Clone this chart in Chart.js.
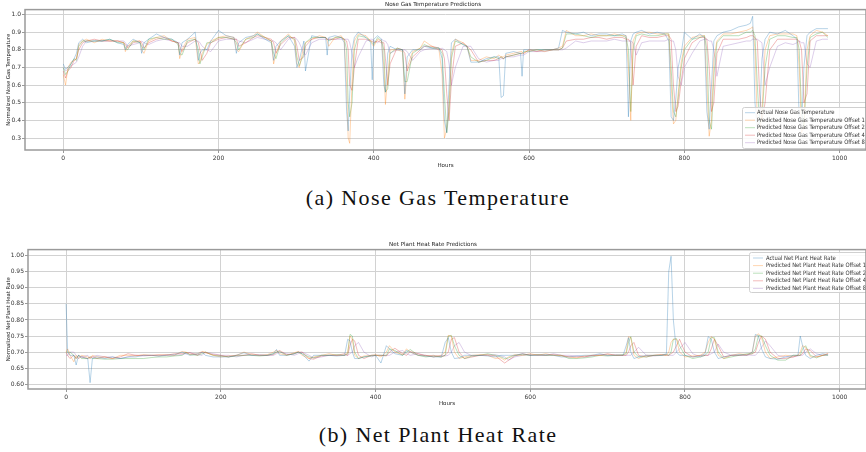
<!DOCTYPE html>
<html>
<head>
<meta charset="utf-8">
<script src="https://cdn.jsdelivr.net/npm/chart.js@4.4.0/dist/chart.umd.min.js"></script>
<style>
body{margin:0;background:#fff;width:866px;height:452px;overflow:hidden;position:relative;}
canvas{position:absolute;left:0;}
#c1{top:0}
#c2{top:238px}
.cap{position:absolute;left:0;width:876px;text-align:center;font-family:"Liberation Serif",serif;font-size:22px;letter-spacing:1.4px;color:#111;line-height:24px;}
</style>
</head>
<body>
<canvas id="c1" width="866" height="172"></canvas>
<div class="cap" style="top:186px">(a) Nose Gas Temperature</div>
<canvas id="c2" width="866" height="172"></canvas>
<div class="cap" style="top:423px">(b) Net Plant Heat Rate</div>
<script>
// EIXOS
const hourTicks = [0, 200, 400, 600, 800, 1000];
const noseTicksY = [0.3, 0.4, 0.5, 0.6, 0.7, 0.8, 0.9, 1.0];
const heatTicksY = [0.60, 0.65, 0.70, 0.75, 0.80, 0.85, 0.90, 0.95, 1.00];

// NOSE GAS TEMPERATURE
const noseLabels = ["Actual Nose Gas Temperature", "Predicted Nose Gas Temperature Offset 1", "Predicted Nose Gas Temperature Offset 2", "Predicted Nose Gas Temperature Offset 4", "Predicted Nose Gas Temperature Offset 8"];
const noseHours = [
  0,3,6,10,14,17,20,25,30,40,
  50,60,70,78,80,83,90,99,101,104,
  110,120,130,140,148,150,153,160,170,174,
  176,179,185,190,200,210,220,223,226,235,
  245,250,260,268,271,274,280,290,298,301,
  304,310,312,320,330,338,340,342,350,358,
  362,365,367,369,372,375,380,390,396,398,
  400,405,410,413,415,418,421,430,437,440,
  443,450,460,465,475,484,488,491,494,497,
  500,505,515,520,525,535,545,555,561,564,
  567,570,580,589,591,593,600,610,620,630,
  638,643,648,660,670,680,690,700,710,720,
  725,728,731,734,738,745,755,765,775,780,
  783,786,789,792,796,800,810,820,826,829,
  832,835,838,842,850,860,870,880,885,888,
  891,894,897,900,904,910,920,930,940,945,
  948,951,954,958,962,970,978,985
];
const noseActual = [
  .72,.69,.70,.72,.75,.78,.84,.86,.84,.85,
  .85,.86,.84,.83,.80,.83,.86,.84,.78,.84,
  .86,.89,.87,.86,.84,.77,.84,.86,.90,.74,
  .78,.80,.80,.85,.91,.88,.87,.78,.84,.87,
  .88,.89,.86,.84,.74,.82,.85,.88,.82,.70,
  .74,.85,.68,.88,.87,.87,.77,.87,.88,.87,
  .84,.45,.34,.55,.80,.87,.90,.87,.84,.63,
  .86,.88,.86,.60,.56,.78,.82,.80,.80,.55,
  .76,.80,.80,.82,.81,.81,.75,.40,.33,.60,
  .84,.86,.83,.82,.73,.73,.75,.76,.76,.53,
  .54,.78,.79,.78,.65,.80,.80,.80,.80,.80,
  .81,.91,.90,.89,.90,.88,.89,.89,.88,.89,
  .88,.42,.85,.89,.90,.91,.89,.90,.89,.85,
  .42,.40,.52,.70,.78,.90,.86,.89,.87,.45,
  .35,.60,.85,.88,.90,.91,.93,.94,.95,.99,
  .50,.35,.40,.75,.86,.90,.89,.91,.88,.86,
  .40,.35,.70,.88,.90,.92,.92,.92
];
const noseOffset1 = [
  .66,.60,.70,.73,.74,.75,.83,.85,.86,.84,
  .86,.85,.85,.84,.79,.82,.85,.85,.80,.78,
  .85,.87,.88,.85,.84,.75,.80,.86,.87,.72,
  .73,.78,.83,.85,.87,.88,.87,.80,.79,.86,
  .88,.90,.87,.85,.72,.78,.85,.89,.85,.72,
  .70,.82,.84,.86,.88,.87,.85,.82,.87,.88,
  .85,.60,.30,.27,.62,.85,.89,.88,.85,.83,
  .82,.86,.85,.70,.49,.65,.80,.80,.79,.52,
  .70,.79,.81,.85,.82,.80,.66,.30,.35,.50,
  .78,.86,.84,.82,.74,.74,.76,.75,.77,.76,
  .76,.77,.78,.79,.79,.78,.80,.80,.79,.80,
  .81,.82,.91,.88,.88,.89,.88,.88,.89,.88,
  .88,.70,.40,.85,.89,.90,.90,.89,.89,.89,
  .60,.38,.40,.55,.73,.82,.87,.88,.88,.60,
  .31,.40,.75,.85,.89,.89,.90,.91,.92,.93,
  .80,.40,.32,.45,.80,.88,.89,.89,.89,.88,
  .70,.33,.36,.80,.88,.91,.90,.88
];
const noseOffset2 = [
  .70,.66,.68,.72,.75,.74,.82,.85,.85,.85,
  .85,.86,.84,.84,.81,.80,.85,.84,.82,.80,
  .86,.87,.86,.86,.83,.78,.77,.85,.86,.80,
  .72,.76,.84,.84,.87,.87,.86,.84,.80,.86,
  .87,.89,.87,.85,.78,.75,.84,.88,.86,.76,
  .71,.78,.84,.87,.87,.87,.86,.85,.87,.87,
  .86,.80,.50,.42,.50,.80,.88,.87,.85,.84,
  .83,.87,.85,.80,.56,.58,.78,.81,.80,.62,
  .62,.78,.81,.83,.81,.81,.78,.55,.33,.45,
  .75,.85,.83,.82,.76,.73,.74,.76,.75,.76,
  .75,.76,.77,.78,.78,.79,.79,.80,.80,.80,
  .80,.81,.89,.89,.88,.87,.88,.88,.88,.88,
  .87,.80,.45,.80,.88,.89,.88,.88,.89,.89,
  .70,.45,.42,.52,.70,.80,.86,.87,.88,.80,
  .40,.35,.65,.84,.88,.88,.88,.90,.90,.91,
  .88,.60,.38,.40,.70,.86,.88,.88,.87,.87,
  .80,.45,.36,.70,.87,.89,.90,.87
];
const noseOffset4 = [
  .68,.64,.68,.70,.74,.75,.80,.84,.85,.86,
  .85,.85,.85,.84,.83,.81,.84,.85,.84,.81,
  .84,.86,.87,.85,.84,.82,.79,.84,.86,.84,
  .80,.74,.78,.84,.86,.87,.86,.86,.82,.84,
  .87,.88,.87,.86,.84,.78,.83,.87,.87,.82,
  .74,.76,.82,.86,.87,.87,.86,.86,.86,.87,
  .86,.85,.80,.60,.57,.70,.86,.86,.85,.85,
  .84,.85,.84,.84,.75,.60,.72,.81,.80,.78,
  .68,.76,.80,.82,.82,.81,.80,.75,.55,.40,
  .62,.82,.84,.82,.80,.73,.74,.74,.75,.76,
  .75,.76,.77,.78,.78,.78,.80,.79,.80,.80,
  .80,.81,.85,.86,.86,.87,.87,.86,.87,.87,
  .86,.86,.84,.60,.82,.88,.87,.87,.88,.88,
  .86,.60,.45,.48,.62,.75,.84,.87,.87,.86,
  .70,.45,.50,.78,.86,.86,.86,.87,.88,.88,
  .87,.85,.55,.40,.50,.80,.86,.86,.86,.86,
  .85,.80,.50,.55,.85,.88,.88,.88
];
const noseOffset8 = [
  .70,.68,.69,.71,.72,.73,.76,.82,.85,.85,
  .85,.85,.85,.85,.84,.82,.83,.84,.85,.84,
  .83,.85,.86,.85,.84,.84,.82,.82,.85,.85,
  .84,.82,.80,.79,.85,.86,.86,.86,.85,.84,
  .86,.87,.86,.85,.85,.84,.80,.86,.87,.86,
  .84,.78,.77,.84,.86,.86,.86,.86,.86,.86,
  .86,.86,.86,.84,.78,.70,.76,.85,.86,.86,
  .85,.84,.86,.85,.85,.83,.78,.80,.80,.80,
  .79,.74,.79,.80,.81,.80,.81,.80,.79,.72,
  .60,.70,.82,.82,.82,.75,.73,.74,.74,.75,
  .75,.76,.76,.77,.77,.77,.79,.79,.79,.80,
  .80,.80,.81,.85,.84,.85,.85,.85,.86,.85,
  .85,.85,.85,.84,.77,.84,.85,.85,.85,.86,
  .85,.85,.80,.65,.60,.70,.78,.85,.86,.86,
  .85,.85,.80,.65,.82,.83,.84,.85,.85,.86,
  .86,.86,.85,.84,.60,.70,.82,.84,.83,.84,
  .85,.84,.84,.72,.70,.85,.86,.86
];

// NET PLANT HEAT RATE
const heatLabels = ["Actual Net Plant Heat Rate", "Predicted Net Plant Heat Rate Offset 1", "Predicted Net Plant Heat Rate Offset 2", "Predicted Net Plant Heat Rate Offset 4", "Predicted Net Plant Heat Rate Offset 8"];
const heatHours = [
  0,2,5,10,13,16,20,28,31,34,
  40,50,60,70,80,90,100,110,120,130,
  140,150,155,160,170,176,180,190,200,210,
  220,230,240,250,260,268,272,276,285,295,
  300,305,314,320,330,340,350,360,364,367,
  370,373,378,385,395,400,407,414,418,425,
  435,440,445,455,465,475,485,490,494,498,
  502,508,515,525,535,545,555,562,567,572,
  580,590,600,610,620,630,640,650,660,670,
  680,690,700,710,720,724,727,730,734,740,
  750,760,770,776,779,782,785,789,793,800,
  810,820,826,830,834,838,843,850,860,870,
  880,887,891,895,899,904,910,920,930,940,
  946,949,952,956,962,970,978,985
];
const heatActual = [
  .85,.70,.69,.69,.66,.69,.685,.68,.605,.68,
  .685,.68,.685,.68,.685,.685,.69,.69,.688,.69,
  .692,.70,.695,.69,.695,.70,.69,.685,.685,.685,
  .69,.698,.69,.69,.69,.695,.708,.69,.69,.695,
  .70,.695,.672,.69,.69,.69,.688,.69,.74,.735,
  .70,.68,.68,.685,.69,.69,.666,.72,.71,.695,
  .69,.705,.70,.69,.688,.685,.685,.73,.745,.70,
  .68,.682,.69,.69,.69,.688,.685,.69,.69,.69,
  .69,.695,.69,.69,.692,.69,.685,.685,.688,.69,
  .69,.695,.69,.69,.69,.72,.745,.70,.68,.685,
  .69,.69,.69,.695,.95,.998,.80,.70,.69,.69,
  .685,.688,.695,.748,.74,.70,.68,.685,.69,.692,
  .69,.70,.755,.75,.71,.685,.68,.678,.685,.69,
  .69,.75,.72,.69,.68,.69,.695,.692
];
const heatOffset1 = [
  .70,.71,.69,.67,.69,.68,.69,.685,.68,.69,
  .685,.685,.68,.69,.69,.688,.692,.69,.69,.692,
  .69,.702,.70,.692,.695,.702,.70,.69,.685,.688,
  .69,.70,.692,.69,.692,.70,.706,.695,.69,.698,
  .702,.69,.68,.685,.69,.695,.69,.69,.70,.75,
  .74,.69,.68,.688,.69,.692,.685,.70,.72,.70,
  .692,.71,.70,.69,.69,.685,.69,.70,.752,.75,
  .70,.68,.685,.69,.692,.69,.68,.682,.675,.685,
  .692,.69,.695,.69,.695,.69,.688,.685,.682,.688,
  .69,.69,.692,.69,.69,.70,.748,.745,.69,.68,
  .69,.69,.692,.69,.70,.73,.74,.74,.70,.685,
  .688,.69,.70,.73,.748,.74,.69,.68,.69,.695,
  .692,.70,.75,.757,.745,.70,.68,.685,.69,.688,
  .69,.70,.72,.715,.685,.685,.69,.695
];
const heatOffset2 = [
  .70,.70,.70,.69,.68,.69,.68,.68,.685,.68,
  .68,.678,.678,.68,.68,.68,.68,.683,.685,.685,
  .688,.69,.70,.692,.69,.695,.70,.69,.688,.685,
  .688,.69,.69,.688,.69,.695,.70,.702,.69,.695,
  .70,.695,.685,.682,.69,.69,.692,.69,.695,.755,
  .75,.70,.68,.685,.688,.69,.69,.69,.71,.705,
  .69,.70,.708,.69,.685,.688,.685,.69,.75,.752,
  .72,.69,.68,.688,.69,.695,.69,.685,.68,.682,
  .69,.692,.69,.692,.69,.69,.69,.68,.68,.682,
  .685,.69,.688,.69,.692,.695,.73,.748,.70,.685,
  .685,.69,.69,.692,.69,.70,.74,.742,.72,.69,
  .68,.685,.69,.70,.745,.745,.70,.68,.685,.69,
  .695,.695,.71,.752,.75,.72,.69,.675,.675,.69,
  .69,.69,.71,.72,.69,.682,.69,.69
];
const heatOffset4 = [
  .70,.69,.68,.69,.68,.69,.685,.68,.685,.685,
  .68,.685,.68,.685,.695,.69,.69,.69,.692,.69,
  .695,.695,.698,.698,.69,.70,.698,.692,.69,.685,
  .69,.69,.695,.69,.69,.692,.70,.705,.692,.695,
  .70,.70,.68,.678,.688,.69,.69,.695,.69,.72,
  .74,.735,.69,.68,.69,.69,.69,.688,.70,.712,
  .695,.69,.702,.695,.688,.69,.685,.69,.70,.74,
  .745,.70,.68,.685,.69,.692,.688,.675,.666,.675,
  .688,.695,.69,.692,.69,.692,.69,.685,.685,.685,
  .69,.69,.695,.69,.69,.69,.70,.72,.73,.69,
  .685,.69,.692,.69,.69,.695,.70,.72,.74,.70,
  .685,.69,.69,.69,.71,.74,.72,.685,.69,.69,
  .69,.695,.70,.73,.75,.74,.70,.68,.68,.685,
  .69,.69,.695,.71,.705,.685,.69,.695
];
const heatOffset8 = [
  .69,.69,.70,.70,.69,.68,.685,.69,.68,.685,
  .69,.685,.685,.68,.685,.69,.688,.69,.688,.692,
  .69,.692,.695,.698,.692,.69,.70,.695,.69,.69,
  .685,.69,.69,.692,.69,.69,.695,.70,.695,.69,
  .695,.70,.69,.682,.685,.69,.69,.69,.69,.695,
  .70,.72,.73,.70,.685,.69,.69,.69,.69,.70,
  .705,.695,.69,.695,.69,.685,.69,.688,.69,.70,
  .72,.73,.70,.688,.69,.69,.692,.688,.685,.675,
  .685,.69,.692,.69,.69,.695,.69,.69,.688,.685,
  .688,.692,.69,.692,.69,.69,.69,.69,.70,.715,
  .69,.688,.69,.692,.69,.69,.69,.70,.71,.73,
  .695,.685,.69,.69,.695,.70,.725,.70,.69,.69,
  .692,.69,.69,.70,.715,.735,.72,.69,.685,.685,
  .688,.69,.69,.70,.71,.695,.69,.69
];

// CORES
const cores = ["rgba(31,119,180,0.32)", "rgba(255,127,14,0.32)", "rgba(44,160,44,0.32)", "rgba(214,39,40,0.32)", "rgba(148,103,189,0.32)"];

function pontos(hours, vals){ return vals.map((v, i) => ({x: hours[i], y: v})); }

function montarDatasets(labels, hours, series){
    return series.map((s, i) => ({
        label: labels[i], data: pontos(hours, s), borderColor: cores[i],
        borderWidth: 1, pointRadius: 0, tension: 0, fill: false
    }));
}

// LEGENDA DENTRO DO GRÁFICO
const legendaBox = {
    id: "legendaBox",
    afterDatasetsDraw(chart, args, o){
        const ctx = chart.ctx;
        ctx.save();
        ctx.fillStyle = "rgba(255,255,255,0.85)";
        ctx.strokeStyle = "#d0d0d0";
        ctx.lineWidth = 1;
        ctx.beginPath();
        ctx.roundRect(o.x + 0.5, o.y + 0.5, o.w, o.h, 2);
        ctx.fill();
        ctx.stroke();
        ctx.font = o.size + "px 'DejaVu Sans'";
        ctx.textBaseline = "middle";
        chart.data.datasets.forEach((ds, i) => {
            const y = o.y0 + i * o.step;
            ctx.strokeStyle = ds.borderColor;
            ctx.beginPath();
            ctx.moveTo(o.lx0, y); ctx.lineTo(o.lx1, y);
            ctx.stroke();
            ctx.fillStyle = "#333";
            // o texto do original é mais estreito que a DejaVu
            const w = ctx.measureText(ds.label).width * o.escala;
            ctx.fillText(ds.label, o.tx, y, w);
        });
        ctx.restore();
    }
};

// MOLDURA
const moldura = {
    id: "moldura",
    afterDraw(chart){
        const a = chart.chartArea, ctx = chart.ctx;
        ctx.save();
        ctx.strokeStyle = "#9a9a9a";
        ctx.lineWidth = 1.5;
        ctx.strokeRect(a.left, a.top, a.right - a.left, a.bottom - a.top);
        ctx.restore();
    }
};

function opcoes(c){
    const fonte = {family: "DejaVu Sans", size: 6};
    return {
        responsive: false, animation: false,
        layout: {padding: 0},
        plugins: {
            legend: {display: false}, tooltip: {enabled: false},
            title: {display: true, text: c.titulo, color: "#222", font: {family: "DejaVu Sans", size: 5.6, weight: "normal", lineHeight: 1}, padding: {top: c.tTop, bottom: c.tBottom}},
            legendaBox: c.legenda
        },
        scales: {
            x: {
                type: "linear", min: -49.25, max: 1034,
                afterFit: s => { s.height = c.xAltura; },
                afterBuildTicks: s => { s.ticks = hourTicks.map(v => ({value: v})); },
                ticks: {font: fonte, color: "#333", padding: 2, maxRotation: 0, callback: v => String(v)},
                grid: {color: "#d2d2d2", lineWidth: 1, tickLength: 3, tickColor: "#999"},
                border: {display: false},
                title: {display: true, text: "Hours", color: "#222", font: {family: "DejaVu Sans", size: 5.5}, padding: {top: 0, bottom: 3}}
            },
            y: {
                min: c.yMin, max: c.yMax,
                afterFit: s => { s.width = c.yLargura; },
                afterBuildTicks: s => { s.ticks = c.yTicks.map(v => ({value: v})); },
                ticks: {font: fonte, color: "#333", padding: 1, callback: v => v.toFixed(c.casas)},
                grid: {color: "#d2d2d2", lineWidth: 1, tickLength: 3, tickColor: "#999"},
                border: {display: false},
                title: {display: true, text: c.yTitulo, color: "#222", font: {family: "DejaVu Sans", size: 5.3}, padding: {top: 5, bottom: 0}}
            }
        }
    };
}

// GRÁFICO NOSE GAS
new Chart(document.getElementById("c1").getContext("2d"), {
    type: "line",
    data: {datasets: montarDatasets(noseLabels, noseHours, [noseActual, noseOffset1, noseOffset2, noseOffset4, noseOffset8])},
    options: opcoes({
        titulo: "Nose Gas Temperature Predictions", tTop: 1.5, tBottom: 2.5,
        xAltura: 22, yLargura: 25, yMin: 0.232, yMax: 1.028, yTicks: noseTicksY, casas: 1,
        yTitulo: "Normalized Nose Gas Temperature",
        legenda: {x: 742, y: 107, w: 130, h: 41, y0: 112.7, step: 7.5, lx0: 745, lx1: 755, tx: 757, size: 6, escala: 0.87}
    }),
    plugins: [legendaBox, moldura]
});

// GRÁFICO HEAT RATE
new Chart(document.getElementById("c2").getContext("2d"), {
    type: "line",
    data: {datasets: montarDatasets(heatLabels, heatHours, [heatActual, heatOffset1, heatOffset2, heatOffset4, heatOffset8])},
    options: opcoes({
        titulo: "Net Plant Heat Rate Predictions", tTop: 3.5, tBottom: 2.5,
        xAltura: 21, yLargura: 28, yMin: 0.5853, yMax: 1.0187, yTicks: heatTicksY, casas: 2,
        yTitulo: "Normalized Net Plant Heat Rate",
        legenda: {x: 749, y: 14, w: 130, h: 40, y0: 20, step: 7.6, lx0: 753, lx1: 763, tx: 766, size: 6, escala: 0.87}
    }),
    plugins: [legendaBox, moldura]
});
</script>
</body>
</html>
